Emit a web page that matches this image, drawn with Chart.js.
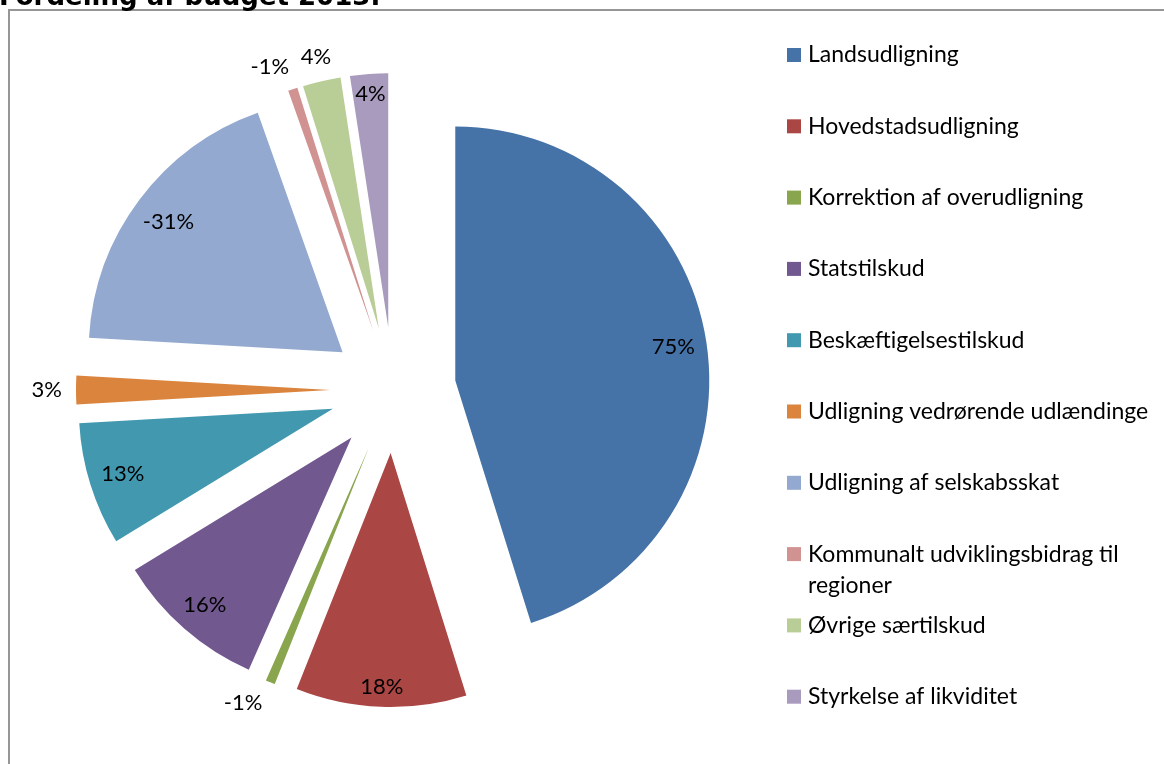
<!DOCTYPE html>
<html lang="da">
<head>
<meta charset="utf-8">
<title>Fordeling af budget 2013</title>
<script src="https://cdn.jsdelivr.net/npm/chart.js@4/dist/chart.umd.min.js"></script>
<style>
  html, body { margin: 0; padding: 0; background: #fff; overflow: hidden; }
  #wrap { position: relative; width: 1164px; height: 764px; }
</style>
</head>
<body>
<div id="wrap"><canvas id="budget" width="1164" height="764"></canvas></div>
<script>
const titleText = "Fordeling af budget 2013:";

const poster = [
    "Landsudligning",
    "Hovedstadsudligning",
    "Korrektion af overudligning",
    "Statstilskud",
    "Beskæftigelsestilskud",
    "Udligning vedrørende udlændinge",
    "Udligning af selskabsskat",
    "Kommunalt udviklingsbidrag til regioner",
    "Øvrige særtilskud",
    "Styrkelse af likviditet"
];

// andel af budgettet i procent (negative poster trækker fra)
const andele = [75, 18, -1, 16, 13, 3, -31, -1, 4, 4];

const farver = [
    "#4572A7", "#AA4643", "#89A54E", "#71588F", "#4198AF",
    "#DB843D", "#93A9CF", "#D19392", "#B9CD96", "#A99BBD"
];

// små skiver får etiketten uden for kagen
const udenfor = [false, false, true, false, false, true, false, true, true, false];
// etiketter der drejes lidt væk fra naboen (grader)
const etiketDrej = [0, 0, 3.5, 0, 0, 0, 0, -3, 0, 0];

const font = "Lato, 'Open Sans', sans-serif";
const RADIUS = 254;   // kagens radius i px
const SHIFT = 63;     // hvor langt hver skive trækkes ud fra midten

const total = andele.reduce((a, b) => a + b, 0);

// Chart.js' eget offset gør skiverne større og smallere, så hver skive
// tegnes i stedet flyttet ud langs sin midtervinkel
const explode = {
    id: "explode",
    beforeDatasetDraw(chart, args) {
        const ctx = chart.ctx;
        args.meta.data.forEach(function (arc) {
            const mid = (arc.startAngle + arc.endAngle) / 2;
            ctx.save();
            ctx.translate(Math.cos(mid) * SHIFT, Math.sin(mid) * SHIFT);
            arc.draw(ctx, chart.chartArea);
            ctx.restore();
        });
        return false;
    }
};

const pieLabels = {
    id: "pieLabels",
    afterDatasetsDraw(chart) {
        const ctx = chart.ctx;
        const meta = chart.getDatasetMeta(0);
        ctx.save();
        ctx.font = "22px " + font;
        ctx.fillStyle = "#000";
        ctx.textAlign = "center";
        ctx.textBaseline = "middle";
        meta.data.forEach(function (arc, i) {
            const p = arc.getProps(["x", "y", "startAngle", "endAngle", "outerRadius"], true);
            const mid = (p.startAngle + p.endAngle) / 2;
            const cx = p.x + Math.cos(mid) * SHIFT;
            const cy = p.y + Math.sin(mid) * SHIFT;
            const a = mid + etiketDrej[i] * Math.PI / 180;
            const cos = Math.cos(a), sin = Math.sin(a);
            const txt = Math.round(andele[i] / total * 100) + "%";
            // halv udstrækning af teksten i skivens retning
            const half = Math.abs(cos) * ctx.measureText(txt).width / 2 + Math.abs(sin) * 8;
            const d = udenfor[i] ? p.outerRadius + 14 + half : p.outerRadius - 11 - half;
            ctx.fillText(txt, cx + cos * d, cy + sin * d);
        });
        ctx.restore();
    }
};

const frameAndLegend = {
    id: "frameAndLegend",
    beforeDraw(chart) {
        const ctx = chart.ctx;
        ctx.save();
        // ramme om diagrammet
        ctx.strokeStyle = "#969696";
        ctx.lineWidth = 2;
        ctx.beginPath();
        ctx.moveTo(9, chart.height + 5);
        ctx.lineTo(9, 10);
        ctx.lineTo(chart.width + 5, 10);
        ctx.stroke();

        // overskrift, skåret af ved kanten
        ctx.font = "bold 26px 'DejaVu Sans', Verdana, sans-serif";
        ctx.fillStyle = "#000";
        ctx.textBaseline = "alphabetic";
        ctx.textAlign = "left";
        ctx.fillText(titleText, -1, 5);
        ctx.restore();
    },
    afterDraw(chart) {
        const ctx = chart.ctx;
        const x0 = 787, y0 = 55, step = 71.3, maxW = 350;
        ctx.save();
        ctx.font = "23px " + font;
        ctx.textBaseline = "middle";
        ctx.textAlign = "left";
        poster.forEach(function (txt, i) {
            const y = y0 + i * step;
            ctx.fillStyle = farver[i];
            ctx.fillRect(x0, y - 7, 14, 14);
            ctx.fillStyle = "#000";
            // ombryd lange navne
            const words = txt.split(" ");
            let line = "", ly = y;
            words.forEach(function (w) {
                const test = line ? line + " " + w : w;
                if (line && ctx.measureText(test).width > maxW) {
                    ctx.fillText(line, x0 + 21, ly);
                    line = w;
                    ly += 31;
                } else {
                    line = test;
                }
            });
            ctx.fillText(line, x0 + 21, ly);
        });
        ctx.restore();
    }
};

new Chart(document.getElementById("budget"), {
    type: "pie",
    data: {
        labels: poster,
        datasets: [{
            data: andele,
            backgroundColor: farver,
            borderWidth: 0,
            hoverOffset: 0
        }]
    },
    options: {
        responsive: false,
        animation: false,
        radius: RADIUS,
        layout: { padding: { left: 10, right: 388, top: 20, bottom: 4 } },
        plugins: {
            legend: { display: false },
            tooltip: { enabled: false }
        },
        events: []
    },
    plugins: [frameAndLegend, explode, pieLabels]
});
</script>
</body>
</html>
